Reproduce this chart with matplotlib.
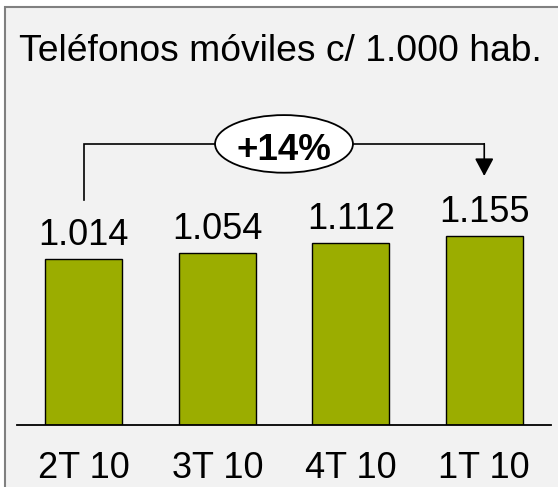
import matplotlib
matplotlib.use("Agg")
import matplotlib.pyplot as plt
from matplotlib.patches import Ellipse, Rectangle

plt.rcParams['font.family'] = ['Liberation Sans', 'DejaVu Sans']

# datos
quarters = ['2T 10', '3T 10', '4T 10', '1T 10']
phones_per_1000 = [1014, 1054, 1112, 1155]
value_labels = ['1.014', '1.054', '1.112', '1.155']
title = 'Teléfonos móviles c/ 1.000 hab.'
growth_label = '+14%'

bar_color = '#9bad00'
bg_color = '#f2f2f2'

fig = plt.figure(figsize=(5.58, 4.87), dpi=100)
fig.patch.set_facecolor('white')

# recuadro gris de fondo (se sale por la derecha y por abajo)
frame = Rectangle((5 / 558, -0.1), 1.2, (487 - 7) / 487 + 0.1,
                  transform=fig.transFigure, facecolor=bg_color,
                  edgecolor='#808080', linewidth=1.5, zorder=-10)
fig.patches.append(frame)

ax = fig.add_axes([17 / 558, 61.7 / 487, 534 / 558, 327.4 / 487])
ax.set_facecolor('none')

x = range(len(quarters))
bars = ax.bar(x, phones_per_1000, width=0.574, color=bar_color,
              edgecolor='black', linewidth=1.0, zorder=2)

for rect, lab in zip(bars, value_labels):
    ax.annotate(lab, (rect.get_x() + rect.get_width() / 2, rect.get_height()),
                xytext=(0, 10), textcoords='offset points',
                ha='center', va='baseline', fontsize=26)

ax.set_xlim(-0.5, 3.5)
ax.set_ylim(0, 2000)
ax.set_xticks(list(x))
ax.set_xticklabels(quarters, fontsize=26)
ax.tick_params(axis='x', length=0, pad=18.5)
ax.set_yticks([])
for side in ['left', 'right', 'top']:
    ax.spines[side].set_visible(False)
ax.spines['bottom'].set_linewidth(1.3)

# corchete con flecha de crecimiento
y_start, y_top, y_tip = 1376, 1717, 1523
ax.plot([0, 0, 3], [y_start, y_top, y_top], color='black', lw=1.2,
        solid_joinstyle='miter', zorder=3)
ax.annotate('', xy=(3, y_tip), xytext=(3, y_top + 3),
            arrowprops=dict(arrowstyle='-|>,head_length=0.6,head_width=0.32',
                            mutation_scale=18, color='black', lw=1.2,
                            shrinkA=0, shrinkB=0), zorder=3)
ax.add_patch(Ellipse((1.5, 1719), 1.033, 352, facecolor='white',
                     edgecolor='black', linewidth=1.3, zorder=4))
ax.text(1.5, 1618, growth_label, ha='center', va='baseline',
        fontsize=26.5, fontweight='bold', zorder=5)

fig.text(280 / 558, (487 - 61) / 487, title, ha='center', va='baseline',
         fontsize=26.8)

fig.savefig('out.png', dpi=100)
